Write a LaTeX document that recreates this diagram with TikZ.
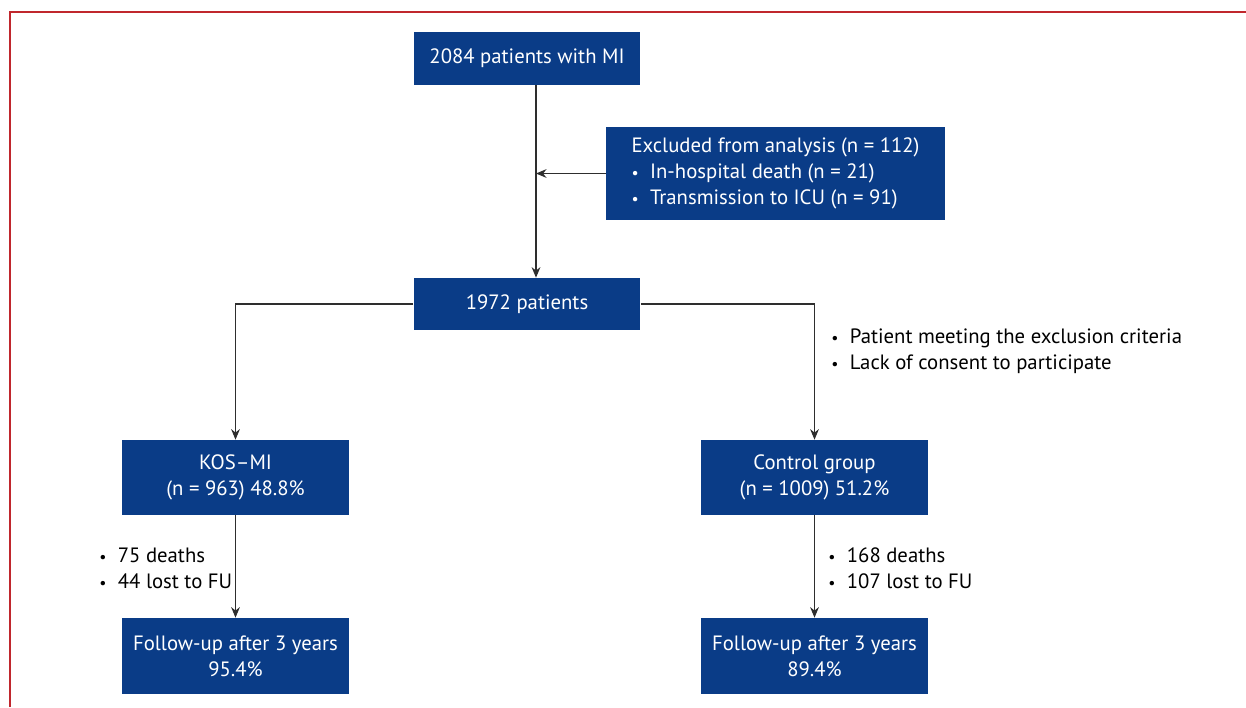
\documentclass[tikz,border=0pt]{standalone}
\usepackage{fontspec}
\setmainfont{PT Sans}
\usepackage{tikz}
\usetikzlibrary{arrows.meta,calc}
\definecolor{BoxBlue}{HTML}{0A3C87}
\definecolor{FrameRed}{HTML}{C0272D}
\definecolor{LineGrey}{HTML}{2E2E2E}

\tikzset{
  flowbox/.style={fill=BoxBlue,text=white,minimum width=4.54cm,inner sep=0pt,align=center,font=\fontsize{11.8pt}{14.6pt}\selectfont},
  flowarrow/.style={draw=LineGrey,line width=0.6pt,-{Stealth[length=6pt,width=5pt]}},
  notetext/.style={align=left,anchor=west,inner sep=0pt,font=\fontsize{11.8pt}{14.8pt}\selectfont}
}
\newcommand{\itembul}{{\small\textbullet}\hspace{0.55em}}

\begin{document}
\begin{tikzpicture}[x=0.02cm,y=-0.02cm]
    \useasboundingbox (0,0) rectangle (1246,707);
    \draw[FrameRed,line width=1.2pt] (10,707) -- (10,12) -- (1246,12);

    \node[flowbox,minimum height=1.06cm] (all) at (527,58.5) {2084 patients with MI};
    \node[flowbox,minimum width=6.78cm,minimum height=1.86cm,align=left] (excl) at (775.5,173.5)
        {Excluded from analysis (n = 112)\\
         \itembul In-hospital death (n = 21)\\
         \itembul Transmission to ICU (n = 91)};
    \node[flowbox,minimum height=1.04cm] (incl) at (527,304) {1972 patients};

    \node[flowbox,minimum height=1.5cm] (kos) at (235.5,477.5) {KOS--MI\\(n = 963) 48.8\%};
    \node[flowbox,minimum height=1.5cm] (ctrl) at (814.5,477.5) {Control group\\(n = 1009) 51.2\%};

    \node[flowbox,minimum height=1.52cm] (kosfu) at (235.5,656) {Follow-up after 3 years\\95.4\%};
    \node[flowbox,minimum height=1.52cm] (ctrlfu) at (814.5,656) {Follow-up after 3 years\\89.4\%};

    % main stream
    \coordinate (join) at (536,173.5);
    \draw[flowarrow] (all.south -| join) -- (incl.north -| join);
    \draw[flowarrow] (excl.west) -- (join);

    % split into groups
    \draw[flowarrow] (incl.west) -| (kos.north);
    \draw[flowarrow] (incl.east) -| (ctrl.north);
    \node[notetext] (ctrlnote) at (831,351) {\itembul Patient meeting the exclusion criteria\\\itembul Lack of consent to participate};

    % follow-up
    \draw[flowarrow] (kos.south) -- (kosfu.north);
    \draw[flowarrow] (ctrl.south) -- (ctrlfu.north);
    \node[notetext] (kosnote) at (99,568) {\itembul 75 deaths\\\itembul 44 lost to FU};
    \node[notetext] (ctrlnote2) at (828,568) {\itembul 168 deaths\\\itembul 107 lost to FU};
\end{tikzpicture}
\end{document}
